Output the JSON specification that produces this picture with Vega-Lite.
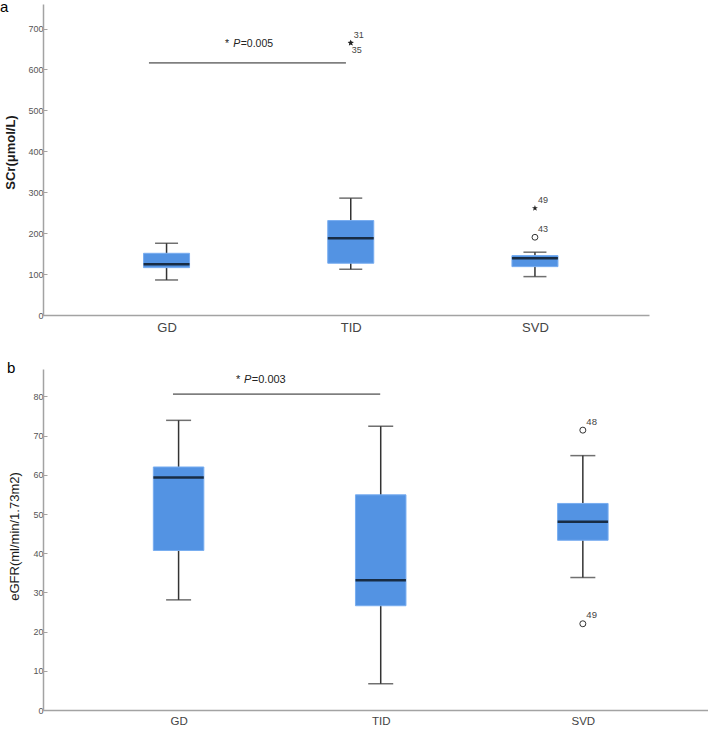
{
  "$schema": "https://vega.github.io/schema/vega-lite/v6.json",
  "autosize": {"type": "pad"},
  "padding": 0,
  "background": "white",
  "bounds": "flush",
  "spacing": 54,
  "config": {
    "font": "Liberation Sans",
    "view": {"stroke": null},
    "axis": {"grid": false, "domainColor": "#a3a3a3", "domainWidth": 1.5, "tickColor": "#a3a3a3", "labelColor": "#555555", "titleColor": "#1a1a1a", "labelFont": "Liberation Sans", "titleFont": "Liberation Sans"}
  },
  "datasets": {
    "statsA": [
      {"group": "GD", "lower": 85.6, "q1": 115.7, "median": 124, "q3": 150.8, "upper": 175.3},
      {"group": "TID", "lower": 111.8, "q1": 126.5, "median": 187.7, "q3": 230.8, "upper": 285.6},
      {"group": "SVD", "lower": 93.8, "q1": 118.2, "median": 138.7, "q3": 145.2, "upper": 153.5}
    ],
    "outA": [
      {"group": "TID", "value": 665, "case": "31", "type": "extreme"},
      {"group": "TID", "value": 665, "case": "35", "type": "extreme"},
      {"group": "SVD", "value": 261, "case": "49", "type": "extreme"},
      {"group": "SVD", "value": 190, "case": "43", "type": "outlier"}
    ],
    "sigA": [{"from": "GD", "to": "TID", "y": 616, "ty": 655, "star": "*", "p": "P", "rest": "=0.005"}],
    "statsB": [
      {"group": "GD", "lower": 28.1, "q1": 40.7, "median": 59.3, "q3": 62.0, "upper": 73.9},
      {"group": "TID", "lower": 6.7, "q1": 26.6, "median": 33.1, "q3": 54.9, "upper": 72.4},
      {"group": "SVD", "lower": 33.8, "q1": 43.3, "median": 48.0, "q3": 52.7, "upper": 64.9}
    ],
    "outB": [
      {"group": "SVD", "value": 71.4, "case": "48", "type": "outlier"},
      {"group": "SVD", "value": 22.0, "case": "49", "type": "outlier"}
    ],
    "sigB": [{"from": "GD", "to": "TID", "y": 80.6, "ty": 83.5, "star": "*", "p": "P", "rest": "=0.003"}]
  },
  "vconcat": [
    {
      "width": 606,
      "height": 311,
      "title": {"text": "a", "anchor": "start", "frame": "group", "dx": -43, "fontSize": 15, "fontWeight": "normal", "baseline": "top", "offset": -11, "color": "#000000", "font": "Liberation Sans"},
      "encoding": {
        "x": {"field": "group", "type": "nominal", "sort": ["GD", "TID", "SVD"],
          "scale": {"type": "point", "domain": ["GD", "TID", "SVD"], "padding": 0.645, "align": 0.52},
          "axis": {"title": null, "labelAngle": 0, "ticks": false, "labelFontSize": 13, "labelPadding": 6, "labelColor": "#444444"}}
      },
      "layer": [
        {"data": {"name": "statsA"}, "mark": {"type": "rule", "color": "#333333", "strokeWidth": 1.5},
          "encoding": {"y": {"field": "lower", "type": "quantitative", "scale": {"domain": [0, 760], "nice": false, "zero": true},
            "axis": {"title": "SCr(μmol/L)", "values": [0, 100, 200, 300, 400, 500, 600, 700], "tickSize": -4, "labelFontSize": 9, "labelPadding": 4, "titleFontSize": 13, "titleFontWeight": "bold", "titlePadding": 10, "titleY": 148}},
            "y2": {"field": "upper"}}},
        {"data": {"name": "statsA"}, "mark": {"type": "tick", "color": "#333333", "size": 23, "thickness": 1.5, "orient": "horizontal"},
          "encoding": {"y": {"field": "upper", "type": "quantitative"}}},
        {"data": {"name": "statsA"}, "mark": {"type": "tick", "color": "#333333", "size": 23, "thickness": 1.5, "orient": "horizontal"},
          "encoding": {"y": {"field": "lower", "type": "quantitative"}}},
        {"data": {"name": "statsA"}, "mark": {"type": "bar", "width": 46, "color": "#5393e3", "stroke": "#78adf0", "strokeWidth": 1},
          "encoding": {"y": {"field": "q1", "type": "quantitative"}, "y2": {"field": "q3"}}},
        {"data": {"name": "statsA"}, "mark": {"type": "tick", "color": "#000000", "size": 46, "thickness": 2.5, "orient": "horizontal"},
          "encoding": {"y": {"field": "median", "type": "quantitative"}}},
        {"data": {"name": "outA"}, "transform": [{"filter": "datum.type == 'extreme'"}],
          "mark": {"type": "point", "shape": "M0,-1L0.235,-0.324L0.951,-0.309L0.38,0.124L0.588,0.809L0,0.4L-0.588,0.809L-0.38,0.124L-0.951,-0.309L-0.235,-0.324Z", "filled": true, "color": "#222222", "size": 40, "opacity": 1},
          "encoding": {"y": {"field": "value", "type": "quantitative"}}},
        {"data": {"name": "outA"}, "transform": [{"filter": "datum.type == 'outlier'"}],
          "mark": {"type": "point", "shape": "circle", "filled": false, "color": "#333333", "strokeWidth": 1, "size": 34, "opacity": 1},
          "encoding": {"y": {"field": "value", "type": "quantitative"}}},
        {"data": {"name": "outA"}, "transform": [{"filter": "datum.case != '35'"}],
          "mark": {"type": "text", "align": "left", "baseline": "alphabetic", "dx": 3, "dy": -5, "fontSize": 9, "color": "#444444"},
          "encoding": {"y": {"field": "value", "type": "quantitative"}, "text": {"field": "case"}}},
        {"data": {"name": "outA"}, "transform": [{"filter": "datum.case == '35'"}],
          "mark": {"type": "text", "align": "left", "baseline": "alphabetic", "dx": 1, "dy": 10, "fontSize": 9, "color": "#444444"},
          "encoding": {"y": {"field": "value", "type": "quantitative"}, "text": {"field": "case"}}},
        {"data": {"name": "sigA"}, "mark": {"type": "rule", "color": "#222222", "strokeWidth": 1, "xOffset": -17.6, "x2Offset": -4.8},
          "encoding": {"x": {"field": "from", "type": "nominal"}, "x2": {"field": "to"}, "y": {"field": "y", "type": "quantitative"}}},
        {"data": {"name": "sigA"}, "mark": {"type": "text", "align": "left", "baseline": "alphabetic", "dx": 58.5, "fontSize": 10.5, "color": "#222222"},
          "encoding": {"x": {"field": "from", "type": "nominal"}, "y": {"field": "ty", "type": "quantitative"}, "text": {"field": "star"}}},
        {"data": {"name": "sigA"}, "mark": {"type": "text", "align": "left", "baseline": "alphabetic", "dx": 66.7, "fontSize": 10.5, "fontStyle": "italic", "color": "#222222"},
          "encoding": {"x": {"field": "from", "type": "nominal"}, "y": {"field": "ty", "type": "quantitative"}, "text": {"field": "p"}}},
        {"data": {"name": "sigA"}, "mark": {"type": "text", "align": "left", "baseline": "alphabetic", "dx": 74.1, "fontSize": 10.5, "color": "#222222"},
          "encoding": {"x": {"field": "from", "type": "nominal"}, "y": {"field": "ty", "type": "quantitative"}, "text": {"field": "rest"}}}
      ]
    },
    {
      "width": 665,
      "height": 341,
      "title": {"text": "b", "anchor": "start", "frame": "group", "dx": -36, "fontSize": 15, "fontWeight": "normal", "baseline": "top", "offset": -7, "color": "#000000", "font": "Liberation Sans"},
      "encoding": {
        "x": {"field": "group", "type": "nominal", "sort": ["GD", "TID", "SVD"],
          "scale": {"type": "point", "domain": ["GD", "TID", "SVD"], "padding": 0.645, "align": 0.52},
          "axis": {"title": null, "labelAngle": 0, "ticks": false, "labelFontSize": 11.5, "labelPadding": 5, "labelColor": "#444444"}}
      },
      "layer": [
        {"data": {"name": "statsB"}, "mark": {"type": "rule", "color": "#333333", "strokeWidth": 1.5},
          "encoding": {"y": {"field": "lower", "type": "quantitative", "scale": {"domain": [0, 87], "nice": false, "zero": true},
            "axis": {"title": "eGFR(ml/min/1.73m2)", "values": [0, 10, 20, 30, 40, 50, 60, 70, 80], "tickSize": -4, "labelFontSize": 9, "labelPadding": 4, "titleFontSize": 13, "titleFontWeight": "normal", "titlePadding": 11, "titleY": 167}},
            "y2": {"field": "upper"}}},
        {"data": {"name": "statsB"}, "mark": {"type": "tick", "color": "#333333", "size": 25, "thickness": 1.5, "orient": "horizontal"},
          "encoding": {"y": {"field": "upper", "type": "quantitative"}}},
        {"data": {"name": "statsB"}, "mark": {"type": "tick", "color": "#333333", "size": 25, "thickness": 1.5, "orient": "horizontal"},
          "encoding": {"y": {"field": "lower", "type": "quantitative"}}},
        {"data": {"name": "statsB"}, "mark": {"type": "bar", "width": 50.5, "color": "#5393e3", "stroke": "#78adf0", "strokeWidth": 1},
          "encoding": {"y": {"field": "q1", "type": "quantitative"}, "y2": {"field": "q3"}}},
        {"data": {"name": "statsB"}, "mark": {"type": "tick", "color": "#000000", "size": 50.5, "thickness": 2.5, "orient": "horizontal"},
          "encoding": {"y": {"field": "median", "type": "quantitative"}}},
        {"data": {"name": "outB"},
          "mark": {"type": "point", "shape": "circle", "filled": false, "color": "#333333", "strokeWidth": 1, "size": 36, "opacity": 1},
          "encoding": {"y": {"field": "value", "type": "quantitative"}}},
        {"data": {"name": "outB"},
          "mark": {"type": "text", "align": "left", "baseline": "alphabetic", "dx": 3.5, "dy": -5.5, "fontSize": 9.5, "color": "#444444"},
          "encoding": {"y": {"field": "value", "type": "quantitative"}, "text": {"field": "case"}}},
        {"data": {"name": "sigB"}, "mark": {"type": "rule", "color": "#222222", "strokeWidth": 1, "xOffset": -5.6, "x2Offset": -0.5},
          "encoding": {"x": {"field": "from", "type": "nominal"}, "x2": {"field": "to"}, "y": {"field": "y", "type": "quantitative"}}},
        {"data": {"name": "sigB"}, "mark": {"type": "text", "align": "left", "baseline": "alphabetic", "dx": 57.5, "fontSize": 11, "color": "#222222"},
          "encoding": {"x": {"field": "from", "type": "nominal"}, "y": {"field": "ty", "type": "quantitative"}, "text": {"field": "star"}}},
        {"data": {"name": "sigB"}, "mark": {"type": "text", "align": "left", "baseline": "alphabetic", "dx": 65.5, "fontSize": 11, "fontStyle": "italic", "color": "#222222"},
          "encoding": {"x": {"field": "from", "type": "nominal"}, "y": {"field": "ty", "type": "quantitative"}, "text": {"field": "p"}}},
        {"data": {"name": "sigB"}, "mark": {"type": "text", "align": "left", "baseline": "alphabetic", "dx": 73.2, "fontSize": 11, "color": "#222222"},
          "encoding": {"x": {"field": "from", "type": "nominal"}, "y": {"field": "ty", "type": "quantitative"}, "text": {"field": "rest"}}}
      ]
    }
  ]
}
